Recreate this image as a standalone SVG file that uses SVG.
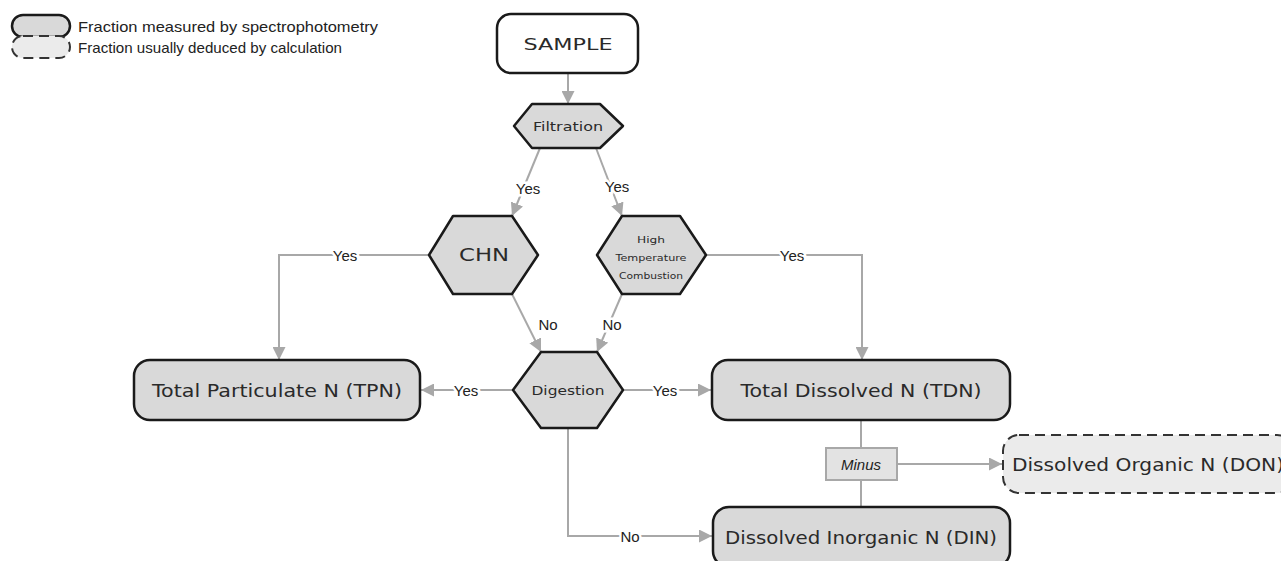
<svg xmlns="http://www.w3.org/2000/svg" width="1281" height="561" viewBox="0 0 1281 561">
<style>
.node{fill:#d9d9d9;stroke:#1a1a1a;stroke-width:2.5;stroke-linejoin:round}
.calc{fill:#ebebeb;stroke:#333;stroke-width:2;stroke-dasharray:10 6}
.t{font-family:"DejaVu Sans",sans-serif;fill:#2a2a2a;text-anchor:middle;dominant-baseline:central}
.lbl{font-family:"Liberation Sans",Arial,sans-serif;font-size:15px;fill:#222;text-anchor:middle;dominant-baseline:central;stroke:#fff;stroke-width:5;paint-order:stroke}
.leg{font-family:"Liberation Sans",Arial,sans-serif;font-size:15px;fill:#222;dominant-baseline:central}
.c{fill:none;stroke:#a8a8a8;stroke-width:2}
</style>
<defs>
<marker id="ah" viewBox="0 0 13 13" refX="13" refY="6.5" markerWidth="13" markerHeight="13" markerUnits="userSpaceOnUse" orient="auto">
<path d="M0,0 L13,6.5 L0,13 z" fill="#a8a8a8"/>
</marker>
</defs>
<rect width="1281" height="561" fill="#fff"/>
<g id="legend">
<rect x="12" y="15" width="58" height="22" rx="11" class="node"/>
<text x="78" y="26" class="leg" textLength="300" lengthAdjust="spacingAndGlyphs">Fraction measured by spectrophotometry</text>
<rect x="12" y="36" width="58" height="22" rx="11" class="calc"/>
<text x="78" y="47" class="leg" textLength="264" lengthAdjust="spacingAndGlyphs">Fraction usually deduced by calculation</text>
</g>
<g id="connectors">
<line x1="568" y1="73" x2="568" y2="104" class="c" marker-end="url(#ah)"/>
<line x1="540" y1="148" x2="512" y2="216" class="c" marker-end="url(#ah)"/>
<line x1="596" y1="148" x2="622" y2="216" class="c" marker-end="url(#ah)"/>
<polyline points="429,255 279,255 279,360" class="c" marker-end="url(#ah)"/>
<polyline points="706,255 862,255 862,360" class="c" marker-end="url(#ah)"/>
<line x1="512" y1="294" x2="541" y2="352" class="c" marker-end="url(#ah)"/>
<line x1="622" y1="294" x2="597" y2="352" class="c" marker-end="url(#ah)"/>
<line x1="513" y1="390" x2="421" y2="390" class="c" marker-end="url(#ah)"/>
<line x1="623" y1="390" x2="711" y2="390" class="c" marker-end="url(#ah)"/>
<polyline points="568,428 568,536 712,536" class="c" marker-end="url(#ah)"/>
<line x1="861" y1="420" x2="861" y2="507" class="c"/>
<line x1="897" y1="464" x2="1002" y2="464" class="c" marker-end="url(#ah)"/>
<text x="528" y="188" class="lbl">Yes</text>
<text x="617" y="186" class="lbl">Yes</text>
<text x="345" y="255" class="lbl">Yes</text>
<text x="792" y="255" class="lbl">Yes</text>
<text x="548" y="324" class="lbl">No</text>
<text x="612" y="324" class="lbl">No</text>
<text x="466" y="390" class="lbl">Yes</text>
<text x="665" y="390" class="lbl">Yes</text>
<text x="630" y="536" class="lbl">No</text>
</g>
<g id="sample">
<rect x="497" y="14" width="141" height="59" rx="14" fill="#fff" stroke="#1a1a1a" stroke-width="2.5"/>
<text x="568" y="44" class="t" font-size="16" textLength="89" lengthAdjust="spacingAndGlyphs">SAMPLE</text>
</g>
<g id="filtration">
<polygon points="514,126 532,104 600,104 623,126 600,148 532,148" class="node"/>
<text x="568" y="127" class="t" font-size="12" textLength="70" lengthAdjust="spacingAndGlyphs">Filtration</text>
</g>
<g id="chn">
<polygon points="429,255 453,216 512,216 538,255 512,294 453,294" class="node"/>
<text x="484" y="255" class="t" font-size="17" textLength="50" lengthAdjust="spacingAndGlyphs">CHN</text>
</g>
<g id="htc">
<polygon points="597,255 622,216 680,216 706,255 680,294 622,294" class="node"/>
<text x="651" y="239" class="t" font-size="9.5" textLength="28" lengthAdjust="spacingAndGlyphs">High</text>
<text x="651" y="257" class="t" font-size="9.5" textLength="71" lengthAdjust="spacingAndGlyphs">Temperature</text>
<text x="651" y="275" class="t" font-size="9.5" textLength="64" lengthAdjust="spacingAndGlyphs">Combustion</text>
</g>
<g id="digestion">
<polygon points="513,390 541,352 597,352 623,390 597,428 541,428" class="node"/>
<text x="568" y="390" class="t" font-size="12.5" textLength="73" lengthAdjust="spacingAndGlyphs">Digestion</text>
</g>
<g id="tpn">
<rect x="134" y="360" width="286" height="60" rx="16" class="node"/>
<text x="277" y="390" class="t" font-size="18" textLength="250" lengthAdjust="spacingAndGlyphs">Total Particulate N (TPN)</text>
</g>
<g id="tdn">
<rect x="712" y="360" width="298" height="60" rx="16" class="node"/>
<text x="861" y="390" class="t" font-size="18" textLength="241" lengthAdjust="spacingAndGlyphs">Total Dissolved N (TDN)</text>
</g>
<g id="minus">
<rect x="826" y="448" width="71" height="32" fill="#e3e3e3" stroke="#a8a8a8" stroke-width="2"/>
<text x="861" y="464" font-family="Liberation Sans,Arial,sans-serif" font-style="italic" font-size="15" fill="#222" text-anchor="middle" dominant-baseline="central">Minus</text>
</g>
<g id="don">
<rect x="1003" y="435" width="290" height="58" rx="16" class="calc"/>
<text x="1148" y="464" class="t" font-size="18" textLength="272" lengthAdjust="spacingAndGlyphs">Dissolved Organic N (DON)</text>
</g>
<g id="din">
<rect x="713" y="507" width="297" height="60" rx="16" class="node"/>
<text x="861" y="537" class="t" font-size="18" textLength="272" lengthAdjust="spacingAndGlyphs">Dissolved Inorganic N (DIN)</text>
</g>
</svg>
